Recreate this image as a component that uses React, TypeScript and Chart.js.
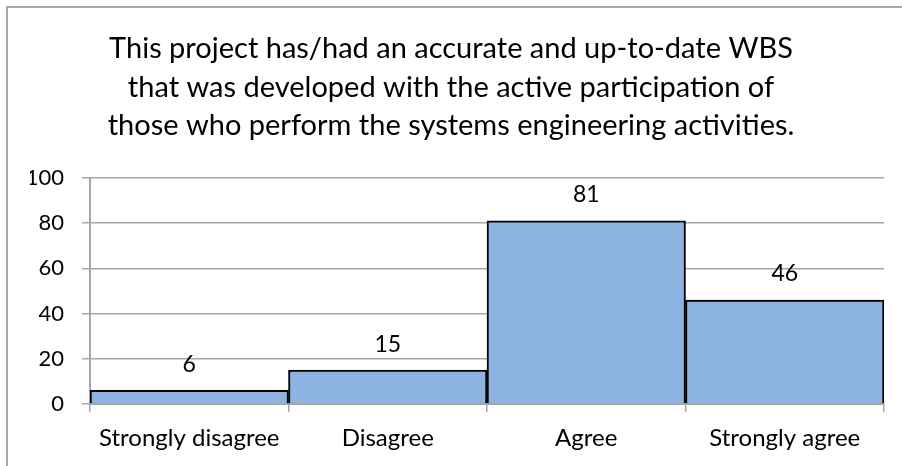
import React, { useEffect, useRef } from "react";
import { Chart, registerables } from "chart.js";

Chart.register(...registerables);

const titleLines = [
  "This project has/had an accurate and up-to-date WBS",
  "that was developed with the active participation of",
  "those who perform the systems engineering activities.",
];
const categories = ["Strongly disagree", "Disagree", "Agree", "Strongly agree"];
const values = [6, 15, 81, 46];
const yMin = 0;
const yMax = 100;
const yStep = 20;

const FONT = 'Lato, "DejaVu Sans Condensed", sans-serif';
const GRID = "#a6a6a6";

const framePlugin = {
  id: "frame",
  beforeDraw(chart: any) {
    const ctx = chart.ctx;
    ctx.save();
    ctx.fillStyle = "#ffffff";
    ctx.fillRect(0, 0, chart.width, chart.height);
    ctx.strokeStyle = "#8c8c8c";
    ctx.lineWidth = 1.5;
    ctx.strokeRect(7, 7, chart.width + 20, chart.height + 20);
    ctx.restore();
  },
};

const titlePlugin = {
  id: "multiTitle",
  afterDraw(chart: any) {
    const ctx = chart.ctx;
    ctx.save();
    ctx.fillStyle = "#000000";
    ctx.font = `29px ${FONT}`;
    ctx.textAlign = "center";
    ctx.textBaseline = "alphabetic";
    const baselines = [58, 97, 135];
    titleLines.forEach((line, i) => ctx.fillText(line, 451, baselines[i]));
    ctx.restore();
  },
};

const labelPlugin = {
  id: "valueLabels",
  afterDatasetsDraw(chart: any) {
    const ctx = chart.ctx;
    const meta = chart.getDatasetMeta(0);
    ctx.save();
    ctx.fillStyle = "#000000";
    ctx.font = `23px ${FONT}`;
    ctx.textAlign = "center";
    ctx.textBaseline = "middle";
    meta.data.forEach((bar: any, i: number) => {
      ctx.fillText(String(values[i]), bar.x, bar.y - 26);
    });
    ctx.restore();
  },
};

export default function App() {
  const ref = useRef<HTMLCanvasElement | null>(null);
  useEffect(() => {
    document.body.style.margin = "0";
    const canvas = ref.current!;
    const chart = new Chart(canvas, {
      type: "bar",
      data: {
        labels: categories,
        datasets: [
          {
            data: values,
            backgroundColor: "#8db3e2",
            borderColor: "#000000",
            borderWidth: 2,
            categoryPercentage: 1,
            barPercentage: 1,
          },
        ],
      },
      options: {
        animation: false,
        responsive: false,
        devicePixelRatio: 1,
        layout: { padding: { left: 30, top: 178, right: 18, bottom: 10 } },
        plugins: { legend: { display: false }, title: { display: false }, tooltip: { enabled: false } },
        scales: {
          x: {
            grid: {
              offset: true,
              drawOnChartArea: false,
              drawTicks: true,
              tickLength: 8,
              color: GRID,
              lineWidth: 1.5,
            },
            border: { display: true, color: GRID, width: 2 },
            ticks: { color: "#000000", font: { family: FONT, size: 24 }, padding: 12, maxRotation: 0 },
            afterFit(scale: any) {
              scale.height = 52;
            },
          },
          y: {
            min: yMin,
            max: yMax,
            grid: { color: GRID, lineWidth: 1.5, tickLength: 8, drawTicks: true },
            border: { display: true, color: GRID, width: 2 },
            ticks: { stepSize: yStep, color: "#000000", font: { family: FONT, size: 22 }, padding: 18 },
            afterFit(scale: any) {
              scale.width = 60;
            },
          },
        },
      },
      plugins: [framePlugin, titlePlugin, labelPlugin],
    } as any);
    return () => chart.destroy();
  }, []);
  return (
    <div style={{ width: 902, height: 466 }}>
      <canvas ref={ref} width={902} height={466} style={{ display: "block" }} />
    </div>
  );
}
